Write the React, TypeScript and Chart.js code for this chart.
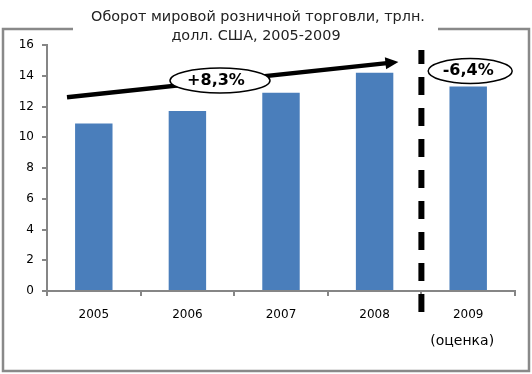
import React, { useEffect, useRef } from "react";
import { Chart, registerables } from "chart.js";

Chart.register(...registerables);

const categories = ["2005", "2006", "2007", "2008", "2009"];
const values = [10.9, 11.7, 12.9, 14.2, 13.3];
const titleLines = ["Оборот мировой розничной торговли, трлн.", "долл. США, 2005-2009"];
const growthLabel = "+8,3%";
const dropLabel = "-6,4%";
const estimateLabel = "(оценка)";
const arrowFrom = 12.6; // y value at the arrow's start
const arrowTo = 14.9; // y value at the arrow's tip

const FONT = "'DejaVu Sans', Verdana, sans-serif";

const overlay = {
  id: "overlay",
  afterDraw(chart: any) {
    const ctx = chart.ctx as CanvasRenderingContext2D;
    const xs = chart.scales.x;
    const ys = chart.scales.y;
    const area = chart.chartArea;
    ctx.save();

    // outer frame with a gap for the title
    ctx.strokeStyle = "#898989";
    ctx.lineWidth = 2.5;
    ctx.beginPath();
    ctx.moveTo(73, 29);
    ctx.lineTo(3, 29);
    ctx.lineTo(3, 371);
    ctx.lineTo(529, 371);
    ctx.lineTo(529, 29);
    ctx.lineTo(438, 29);
    ctx.stroke();

    // title
    ctx.fillStyle = "#222";
    ctx.font = `14.4px ${FONT}`;
    ctx.textAlign = "center";
    ctx.textBaseline = "middle";
    ctx.fillText(titleLines[0], 258, 17);
    ctx.fillText(titleLines[1], 256, 36);

    // dashed divider between 2008 and 2009
    const divX = (xs.getPixelForValue(3) + xs.getPixelForValue(4)) / 2;
    ctx.strokeStyle = "#000";
    ctx.lineWidth = 6;
    ctx.setLineDash([18, 13]);
    ctx.lineDashOffset = 4;
    ctx.beginPath();
    ctx.moveTo(divX, 50);
    ctx.lineTo(divX, 314);
    ctx.stroke();
    ctx.setLineDash([]);

    // trend arrow
    const x0 = area.left + 20;
    const y0 = ys.getPixelForValue(arrowFrom);
    const x1 = divX - 23;
    const y1 = ys.getPixelForValue(arrowTo);
    const ang = Math.atan2(y1 - y0, x1 - x0);
    const headLen = 13;
    ctx.lineWidth = 4.5;
    ctx.lineCap = "butt";
    ctx.beginPath();
    ctx.moveTo(x0, y0);
    ctx.lineTo(x1 - headLen * 0.7 * Math.cos(ang), y1 - headLen * 0.7 * Math.sin(ang));
    ctx.stroke();
    ctx.fillStyle = "#000";
    ctx.beginPath();
    ctx.moveTo(x1, y1);
    ctx.lineTo(x1 - headLen * Math.cos(ang) + 6 * Math.sin(ang), y1 - headLen * Math.sin(ang) - 6 * Math.cos(ang));
    ctx.lineTo(x1 - headLen * Math.cos(ang) - 6 * Math.sin(ang), y1 - headLen * Math.sin(ang) + 6 * Math.cos(ang));
    ctx.closePath();
    ctx.fill();

    // ellipses with labels
    const drawBadge = (cx: number, cy: number, rx: number, ry: number, text: string, tx: number) => {
      ctx.beginPath();
      ctx.ellipse(cx, cy, rx, ry, 0, 0, Math.PI * 2);
      ctx.fillStyle = "#fff";
      ctx.fill();
      ctx.lineWidth = 1.5;
      ctx.strokeStyle = "#000";
      ctx.stroke();
      ctx.fillStyle = "#000";
      ctx.font = `bold 16px ${FONT}`;
      ctx.textAlign = "center";
      ctx.textBaseline = "middle";
      ctx.fillText(text, tx, cy);
    };
    drawBadge(220, 80.5, 50, 12.5, growthLabel, 216);
    drawBadge(xs.getPixelForValue(4) + 2, 71, 42, 12.5, dropLabel, xs.getPixelForValue(4));

    // estimate note
    ctx.font = `14px ${FONT}`;
    ctx.fillStyle = "#000";
    ctx.textAlign = "center";
    ctx.fillText(estimateLabel, xs.getPixelForValue(4) - 6, 341);

    ctx.restore();
  },
};

export default function App() {
  const ref = useRef<HTMLCanvasElement>(null);
  useEffect(() => {
    document.body.style.margin = "0";
    const chart = new Chart(ref.current!, {
      type: "bar",
      data: {
        labels: categories,
        datasets: [
          {
            data: values,
            backgroundColor: "#4a7ebb",
            borderWidth: 0,
            categoryPercentage: 1,
            barPercentage: 0.4,
          },
        ],
      },
      options: {
        animation: false,
        responsive: false,
        layout: { padding: { left: 0, top: 45, right: 17, bottom: 0 } },
        plugins: { legend: { display: false }, title: { display: false }, tooltip: { enabled: false } },
        scales: {
          x: {
            afterFit: (s: any) => {
              s.height = 83;
            },
            grid: { drawOnChartArea: false, drawTicks: true, tickLength: 5, color: "#868686", lineWidth: 2 },
            border: { color: "#868686", width: 2 },
            ticks: { color: "#000", font: { family: FONT, size: 12 }, padding: 12 },
          },
          y: {
            min: 0,
            max: 16,
            afterFit: (s: any) => {
              s.width = 47;
            },
            grid: { drawOnChartArea: false, drawTicks: true, tickLength: 5, color: "#868686", lineWidth: 2 },
            border: { color: "#868686", width: 2 },
            ticks: { stepSize: 2, color: "#000", font: { family: FONT, size: 12 }, padding: 8 },
          },
        },
      },
      plugins: [overlay],
    });
    return () => chart.destroy();
  }, []);
  return (
    <div style={{ position: "absolute", left: 0, top: 0, width: 532, height: 374 }}>
      <canvas ref={ref} width={532} height={374} />
    </div>
  );
}
